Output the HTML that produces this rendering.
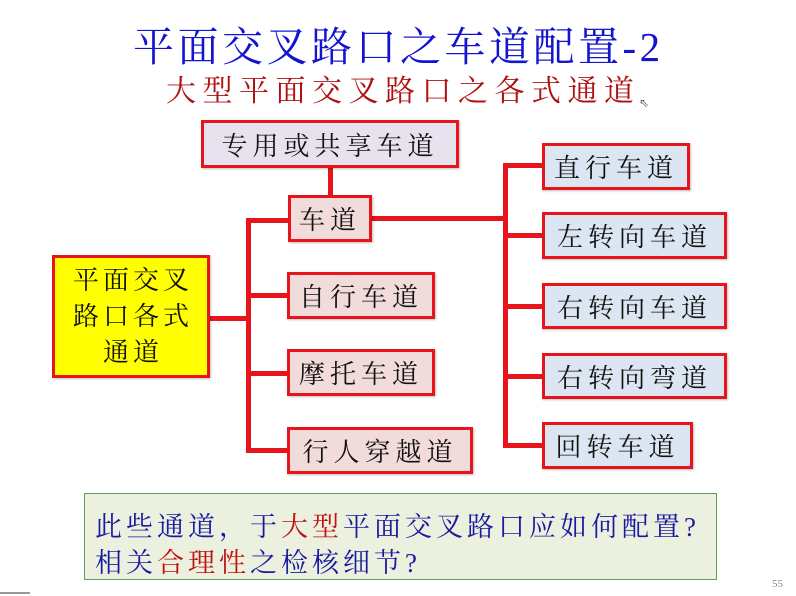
<!DOCTYPE html>
<html><head><meta charset="utf-8"><style>
body{margin:0;width:796px;height:596px;background:#fff;position:relative;overflow:hidden;font-family:"Liberation Serif","Noto Serif CJK SC",serif;}
.t{position:absolute;white-space:nowrap;}
.b{position:absolute;box-sizing:border-box;border:3px solid #e8141b;display:flex;align-items:center;justify-content:center;font-size:26px;letter-spacing:5px;color:#111;box-shadow:1px 1px 2px rgba(0,0,0,.25);}
.p{background:#f2dcdb}.u{background:#dce6f2}
.l{position:absolute;background:#e8141b;}
</style></head><body>
<div class="t" style="left:133px;top:14px;font-size:41px;color:#1414d0;letter-spacing:3.5px;">平面交叉路口之车道配置-2</div>
<div class="t" style="left:166px;top:66px;font-size:30px;color:#b01010;letter-spacing:6.5px;">大型平面交叉路口之各式通道</div>
<div class="t" style="left:639px;top:96px;font-size:12px;color:#666;">⇖</div>

<div class="l" style="left:328px;top:166px;width:5px;height:30px"></div>
<div class="l" style="left:246px;top:218px;width:5px;height:235px"></div>
<div class="l" style="left:209px;top:316px;width:40px;height:5px"></div>
<div class="l" style="left:246px;top:218px;width:42px;height:5px"></div>
<div class="l" style="left:246px;top:293px;width:42px;height:5px"></div>
<div class="l" style="left:246px;top:371px;width:42px;height:5px"></div>
<div class="l" style="left:246px;top:448px;width:42px;height:5px"></div>
<div class="l" style="left:371px;top:216px;width:136px;height:5px"></div>
<div class="l" style="left:503px;top:163px;width:5px;height:285px"></div>
<div class="l" style="left:503px;top:163px;width:40px;height:5px"></div>
<div class="l" style="left:503px;top:233px;width:40px;height:5px"></div>
<div class="l" style="left:503px;top:304px;width:40px;height:5px"></div>
<div class="l" style="left:503px;top:374px;width:40px;height:5px"></div>
<div class="l" style="left:503px;top:443px;width:40px;height:5px"></div>

<div class="b" style="left:201px;top:120px;width:258px;height:48px;background:#e8e2ee;">专用或共享车道</div>
<div class="b p" style="left:288px;top:195px;width:84px;height:47px;">车道</div>
<div class="b" style="left:52px;top:255px;width:158px;height:123px;background:#ffff00;font-size:26px;letter-spacing:4px;line-height:36px;text-align:center;padding-left:4px">平面交叉<br>路口各式<br>通道</div>
<div class="b p" style="left:287px;top:272px;width:148px;height:47px;">自行车道</div>
<div class="b p" style="left:287px;top:349px;width:148px;height:47px;">摩托车道</div>
<div class="b p" style="left:287px;top:427px;width:186px;height:47px;">行人穿越道</div>

<div class="b u" style="left:542px;top:143px;width:148px;height:47px;">直行车道</div>
<div class="b u" style="left:542px;top:212px;width:185px;height:47px;">左转向车道</div>
<div class="b u" style="left:542px;top:283px;width:185px;height:46px;">右转向车道</div>
<div class="b u" style="left:542px;top:353px;width:185px;height:46px;">右转向弯道</div>
<div class="b u" style="left:542px;top:422px;width:151px;height:47px;">回转车道</div>

<div style="position:absolute;left:84px;top:493px;width:633px;height:87px;box-sizing:border-box;border:1.5px solid #5aa05a;background:#ebf1de;"></div>
<div class="t" style="left:95px;top:505px;font-size:27px;letter-spacing:4px;color:#1a1aa0;">此些通道，于<span style="color:#c01010">大型</span>平面交叉路口应如何配置?</div>
<div class="t" style="left:95px;top:541px;font-size:27px;letter-spacing:4px;color:#1a1aa0;">相关<span style="color:#c01010">合理性</span>之检核细节?</div>
<div class="t" style="left:772px;top:578px;font-size:11px;color:#888;">55</div>
<div style="position:absolute;left:0;top:592px;width:30px;height:2px;background:#999"></div>
</body></html>
